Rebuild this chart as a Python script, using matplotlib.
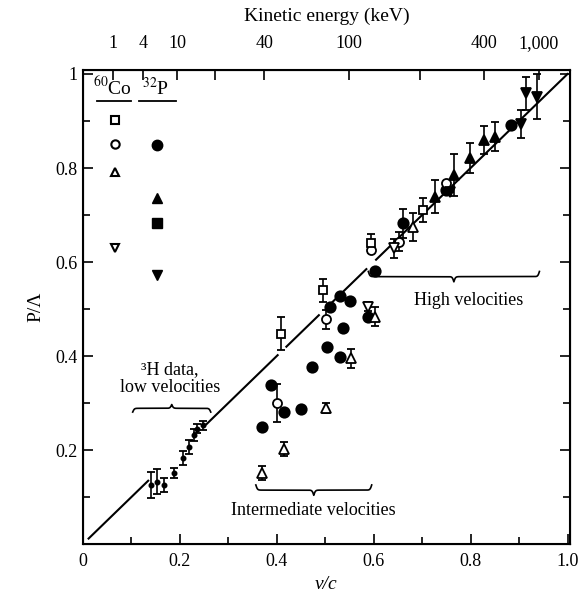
import numpy as np
import matplotlib
matplotlib.use("Agg")
import matplotlib.pyplot as plt
from matplotlib.ticker import MultipleLocator

plt.rcParams['font.family'] = ['Liberation Serif', 'DejaVu Serif']
plt.rcParams['mathtext.fontset'] = 'stix'

# --- data: (v/c, P/Lambda, error) ---
fcirc_x = [0.370, 0.389, 0.415, 0.450, 0.473, 0.503, 0.530, 0.537, 0.511, 0.531, 0.552, 0.588, 0.603, 0.661, 0.750, 0.884]
fcirc_y = [0.250, 0.338, 0.281, 0.288, 0.377, 0.420, 0.399, 0.459, 0.504, 0.528, 0.518, 0.484, 0.581, 0.682, 0.753, 0.891]
fcirc_e = [0, 0, 0, 0, 0, 0, 0, 0, 0, 0, 0, 0, 0, 0.03, 0, 0]

ocirc_x = [0.400, 0.502, 0.595, 0.652, 0.750]
ocirc_y = [0.300, 0.478, 0.625, 0.643, 0.769]
ocirc_e = [0.04, 0.02, 0, 0.02, 0]

osq_x = [0.408, 0.495, 0.595, 0.701]
osq_y = [0.448, 0.540, 0.640, 0.711]
osq_e = [0.035, 0.025, 0.02, 0.025]

ftri_x = [0.727, 0.766, 0.798, 0.828, 0.851]
ftri_y = [0.739, 0.785, 0.821, 0.860, 0.867]
ftri_e = [0.035, 0.045, 0.032, 0.03, 0.03]

otri_x = [0.370, 0.415, 0.502, 0.554, 0.603, 0.682]
otri_y = [0.151, 0.202, 0.290, 0.395, 0.484, 0.675]
otri_e = [0.015, 0.015, 0.01, 0.02, 0.02, 0.03]

fdown_x = [0.757, 0.903, 0.915, 0.938]
fdown_y = [0.750, 0.894, 0.959, 0.952]
fdown_e = [0, 0.03, 0.035, 0.048]

odown_x = [0.588, 0.641]
odown_y = [0.505, 0.629]
odown_e = [0.01, 0.02]

# 3H data, low velocities
h3_x = [0.140, 0.153, 0.168, 0.189, 0.207, 0.220, 0.230, 0.236, 0.247]
h3_y = [0.126, 0.133, 0.126, 0.151, 0.183, 0.207, 0.232, 0.246, 0.253]
h3_e = [0.027, 0.027, 0.015, 0.011, 0.015, 0.015, 0.012, 0.010, 0.010]

# legend columns (60Co open symbols, 32P filled symbols)
co_y = [0.902, 0.851, 0.792, 0.630]
p_y = [0.849, 0.736, 0.683, 0.572]
co_x, p_x = 0.066, 0.154

# top axis energies (keV)
ke_ticks = [1, 4, 10, 20, 40, 100, 200, 400, 1000]
ke_labels = {1: '1', 4: '4', 10: '10', 40: '40', 100: '100', 400: '400', 1000: '1,000'}

# theory line P/Lambda = v/c, drawn in pieces
line_pieces = [(0.012, 0.135), (0.255, 0.402), (0.42, 0.487), (0.51, 0.585), (0.605, 1.0)]


def beta_of(T):
    g = 1 + np.asarray(T, float) / 511.0
    return np.sqrt(1 - 1 / g**2)


def brace(ax, x0, x1, y, h):
    xm = (x0 + x1) / 2
    xs = np.linspace(x0, xm, 200)
    b = 600.0
    ys = 1 / (1 + np.exp(-b * (xs - x0))) + 1 / (1 + np.exp(-b * (xs - xm)))
    xx = np.concatenate([xs, 2 * xm - xs[::-1]])
    yy = np.concatenate([ys, ys[::-1]])
    ax.plot(xx, y + h * (yy - 1), color='black', lw=1.2)


fig = plt.figure(figsize=(5.87, 6), dpi=100)
ax = fig.add_axes([0.141, 0.093, 0.83, 0.79])

for a, b in line_pieces:
    ax.plot([a, b], [a, b], color='black', lw=1.5)

eb = dict(ls='none', ecolor='black', elinewidth=1.2, capsize=3, capthick=1.2, mec='black', mew=1.3)
ax.errorbar(fcirc_x, fcirc_y, yerr=fcirc_e, fmt='o', ms=7.5, mfc='black', **eb)
ax.errorbar(ocirc_x, ocirc_y, yerr=ocirc_e, fmt='o', ms=6.5, mfc='white', **eb)
ax.errorbar(osq_x, osq_y, yerr=osq_e, fmt='s', ms=6, mfc='white', **eb)
ax.errorbar(ftri_x, ftri_y, yerr=ftri_e, fmt='^', ms=7.5, mfc='black', **eb)
ax.errorbar(otri_x, otri_y, yerr=otri_e, fmt='^', ms=6.5, mfc='white', **eb)
ax.errorbar(fdown_x, fdown_y, yerr=fdown_e, fmt='v', ms=7.5, mfc='black', **eb)
ax.errorbar(odown_x, odown_y, yerr=odown_e, fmt='v', ms=6.5, mfc='white', **eb)
ax.errorbar(h3_x, h3_y, yerr=h3_e, fmt='o', ms=3, mfc='black', **eb)

# legend columns
co_m = ['s', 'o', '^', 'v']
p_m = ['o', '^', 's', 'v']
for m, yv in zip(co_m, co_y):
    ax.plot(co_x, yv, marker=m, ms=6, mfc='white', mec='black', mew=1.5, ls='none')
for m, yv in zip(p_m, p_y):
    ax.plot(p_x, yv, marker=m, ms=7.5, mfc='black', mec='black', ls='none')
ax.text(0.062, 0.947, r'$^{60}$Co', ha='center', va='bottom', fontsize=14)
ax.text(0.150, 0.947, r'$^{32}$P', ha='center', va='bottom', fontsize=14)
ax.plot([0.030, 0.100], [0.942, 0.942], color='black', lw=1.3)
ax.plot([0.117, 0.193], [0.942, 0.942], color='black', lw=1.3)

# braces and annotations
brace(ax, 0.103, 0.264, 0.289, 0.016)
ax.text(0.18, 0.352, '³H data,\nlow velocities', ha='center', va='center',
        fontsize=13, linespacing=1.1)
brace(ax, 0.357, 0.596, 0.115, -0.022)
ax.text(0.476, 0.072, 'Intermediate velocities', ha='center', va='center', fontsize=13)
brace(ax, 0.589, 0.942, 0.569, -0.022)
ax.text(0.795, 0.519, 'High velocities', ha='center', va='center', fontsize=13)

ax.set_xlim(0, 1.005)
ax.set_ylim(0, 1.008)
ax.set_xticks([0, 0.2, 0.4, 0.6, 0.8, 1.0])
ax.set_xticklabels(['0', '0.2', '0.4', '0.6', '0.8', '1.0'])
ax.set_yticks([0.2, 0.4, 0.6, 0.8, 1.0])
ax.set_yticklabels(['0.2', '0.4', '0.6', '0.8', '1'])
ax.xaxis.set_minor_locator(MultipleLocator(0.1))
ax.yaxis.set_minor_locator(MultipleLocator(0.1))
ax.tick_params(which='both', direction='in', labelsize=13, width=1.2, right=True, top=False)
ax.tick_params(which='major', length=7)
ax.tick_params(which='minor', length=5)
ax.tick_params(axis='x', pad=6)
for s in ax.spines.values():
    s.set_linewidth(1.5)
ax.set_xlabel('v/c', style='italic', fontsize=14, labelpad=5)
ax.set_ylabel('P/Λ', fontsize=14, labelpad=8)

top = ax.twiny()
top.set_xlim(ax.get_xlim())
top.set_xticks(beta_of(ke_ticks))
top.set_xticklabels([ke_labels.get(t, '') for t in ke_ticks])
top.tick_params(direction='in', length=7, width=1.2, labelsize=13, pad=13)
top.set_xlabel('Kinetic energy (keV)', fontsize=14, labelpad=10)

fig.savefig('out.png', dpi=100)
